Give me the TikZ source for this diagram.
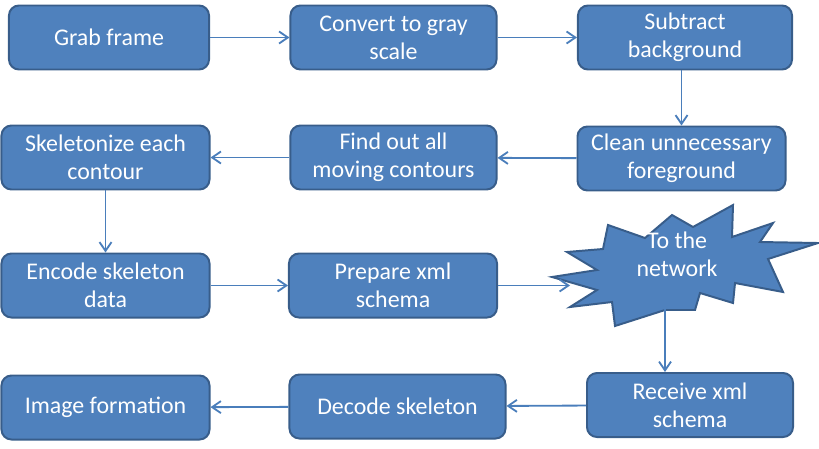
\documentclass[tikz,border=0pt]{standalone}
\usepackage{fontspec}
\setmainfont{Carlito}
\usetikzlibrary{arrows.meta}
\definecolor{boxfill}{HTML}{4F81BD}
\definecolor{boxline}{HTML}{385D8A}
\definecolor{arrowline}{HTML}{4A7EBB}

\begin{document}
\begin{tikzpicture}[x=0.025cm, y=-0.025cm,
		stage/.style={draw=boxline, fill=boxfill, line width=1.4pt, rounded corners=0.25cm, text=white, align=center, minimum height=1.6cm, inner sep=2pt, font=\fontsize{17}{20}\selectfont},
		flow/.style={draw=arrowline, line width=1.3pt, -{Straight Barb[length=0.22cm, width=0.3cm, line width=1.3pt]}}]
		\useasboundingbox (0,0) rectangle (819,448);
		
		\node [stage, minimum width=5.0cm] (grab) at (109,37.5) {Grab frame};
		\node [stage, minimum width=5.15cm] (gray) at (393.5,37.5) {Convert to gray\\scale};
		\node [stage, minimum width=5.35cm] (subtract) at (685,37.5) {Subtract\\background};
		\node [stage, minimum width=5.2cm] (clean) at (681.5,158.5) {Clean unnecessary\\foreground};
		\node [stage, minimum width=5.15cm] (find) at (393.5,157.5) {Find out all\\moving contours};
		\node [stage, minimum width=5.2cm] (skel) at (105.5,157.5) {Skeletonize each\\contour};
		\node [stage, minimum width=5.2cm] (encode) at (105.5,285.5) {Encode skeleton\\data};
		\node [stage, minimum width=5.2cm] (prepare) at (393,285.5) {Prepare xml\\schema};
		\node [stage, minimum width=5.15cm] (receive) at (690,405) {Receive xml\\schema};
		\node [stage, minimum width=5.4cm] (decode) at (397.5,406.5) {Decode skeleton};
		\node [stage, minimum width=5.2cm] (image) at (105.5,407.5) {Image formation};
		
		% the network burst
		\draw [draw=boxline, fill=boxfill, line width=1.4pt] (552,277) -- (597,270) -- (567,252) -- (603,249) -- (608,225) -- (645,238) -- (672,215) -- (693,227) -- (733,205) -- (732,237) -- (773,223) -- (760,242) -- (818,243) -- (768,259) -- (783,292) -- (735,283) -- (733,303) -- (700,293) -- (695,310) -- (665,310) -- (615,326) -- (612,302) -- (570,307) -- (597,290) -- cycle;
		\node [text=white, align=center, font=\fontsize{17}{20}\selectfont] (net) at (677,254) {To the\\network};
		\coordinate (netin) at (570,285.5);
		\coordinate (netout) at (665,309);
		
		\draw [flow] (grab) -- (gray);
		\draw [flow] (gray) -- (subtract);
		\draw [flow] (subtract.south -| clean) -- (clean);
		\draw [flow] (clean) -- (find);
		\draw [flow] (find) -- (skel);
		\draw [flow] (skel) -- (encode);
		\draw [flow] (encode) -- (prepare);
		\draw [flow] (prepare) -- (netin);
		\draw [flow] (netout) -- (netout |- receive.north);
		\draw [flow] (receive) -- (decode);
		\draw [flow] (decode) -- (image);
	\end{tikzpicture}
\end{document}
